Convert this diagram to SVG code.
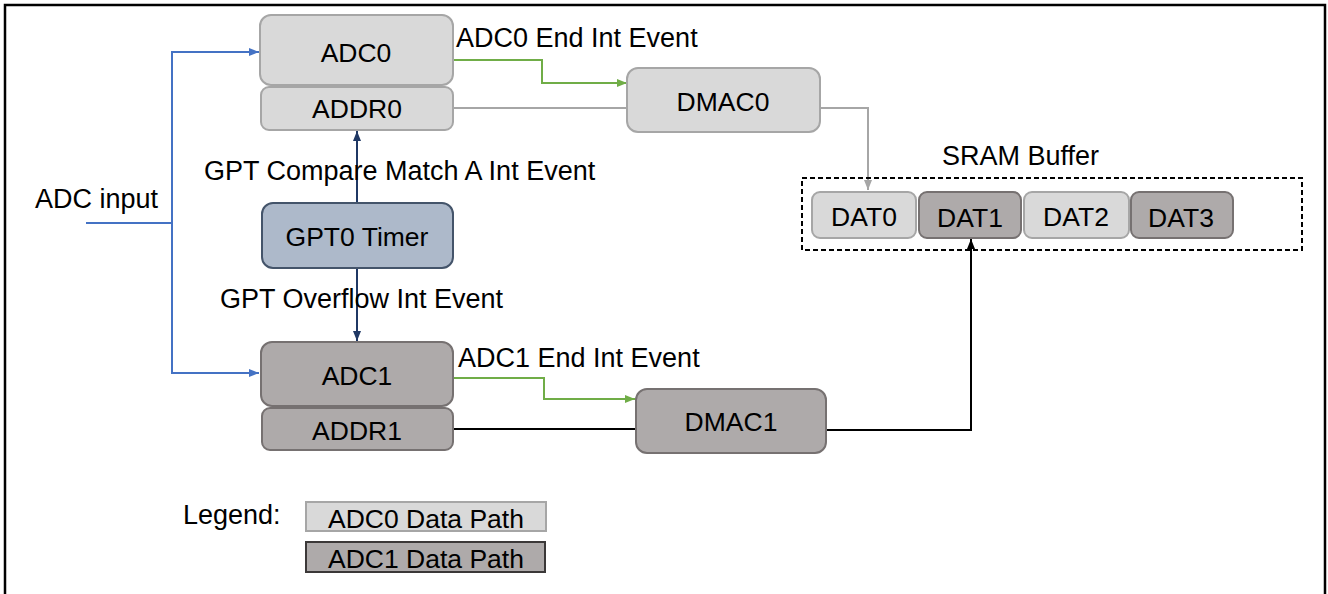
<svg xmlns="http://www.w3.org/2000/svg" width="1328" height="594" viewBox="0 0 1328 594">
<style>
text{font-family:"Liberation Sans",Arial,sans-serif;fill:#000}
.lbl{font-size:27px}
.bx{font-size:26.5px;text-anchor:middle}
.lt{fill:#d9d9d9;stroke:#a6a6a6;stroke-width:2}
.dk{fill:#aeaaaa;stroke:#767171;stroke-width:2}
.gpt{fill:#adb9ca;stroke:#44546a;stroke-width:2}
.c{fill:none;stroke-width:2}
</style>
<defs>
<marker id="aBlue" markerWidth="10" markerHeight="8" refX="10" refY="4" orient="auto" markerUnits="userSpaceOnUse"><path d="M0,0 L10,4 L0,8 z" fill="#4472c4"/></marker>
<marker id="aNavy" markerWidth="10" markerHeight="8" refX="10" refY="4" orient="auto" markerUnits="userSpaceOnUse"><path d="M0,0 L10,4 L0,8 z" fill="#1f3864"/></marker>
<marker id="aGreen" markerWidth="10" markerHeight="8" refX="10" refY="4" orient="auto" markerUnits="userSpaceOnUse"><path d="M0,0 L10,4 L0,8 z" fill="#70ad47"/></marker>
<marker id="aGrey" markerWidth="10" markerHeight="8" refX="10" refY="4" orient="auto" markerUnits="userSpaceOnUse"><path d="M0,0 L10,4 L0,8 z" fill="#a6a6a6"/></marker>
<marker id="aBlack" markerWidth="10" markerHeight="8" refX="10" refY="4" orient="auto" markerUnits="userSpaceOnUse"><path d="M0,0 L10,4 L0,8 z" fill="#000"/></marker>
</defs>
<rect width="1328" height="594" fill="#fff"/>
<path d="M5,600 V5 H1325 V600" fill="none" stroke="#000" stroke-width="2.5"/>

<g id="connectors">
<path class="c" d="M86,223 H172 V52 H259" stroke="#4472c4" marker-end="url(#aBlue)"/>
<path class="c" d="M172,223 V373 H259" stroke="#4472c4" marker-end="url(#aBlue)"/>
<path class="c" d="M357,203 V131" stroke="#1f3864" marker-end="url(#aNavy)"/>
<path class="c" d="M357,268 V341" stroke="#1f3864" marker-end="url(#aNavy)"/>
<path class="c" d="M453,60 H542 V83 H627" stroke="#70ad47" marker-end="url(#aGreen)"/>
<path class="c" d="M453,108 H627" stroke="#a6a6a6"/>
<path class="c" d="M820,108 H868 V190" stroke="#a6a6a6" marker-end="url(#aGrey)"/>
<path class="c" d="M453,378 H544 V399 H635" stroke="#70ad47" marker-end="url(#aGreen)"/>
<path class="c" d="M453,429 H636" stroke="#000"/>
<path class="c" d="M826,430 H971 V239" stroke="#000" marker-end="url(#aBlack)"/>
</g>

<g id="adc0"><rect class="lt" x="260" y="15" width="193" height="70" rx="11"/><text class="bx" x="356" y="62">ADC0</text></g>
<g id="addr0"><rect class="lt" x="261" y="87" width="192" height="43" rx="8"/><text class="bx" x="357" y="118">ADDR0</text></g>
<g id="dmac0"><rect class="lt" x="627" y="68" width="193" height="64" rx="11"/><text class="bx" x="723" y="111">DMAC0</text></g>
<g id="gpt0"><rect class="gpt" x="262" y="203" width="191" height="65" rx="11"/><text class="bx" x="357" y="246">GPT0 Timer</text></g>
<g id="adc1"><rect class="dk" x="261" y="342" width="192" height="64" rx="11"/><text class="bx" x="357" y="385">ADC1</text></g>
<g id="addr1"><rect class="dk" x="262" y="408" width="191" height="42" rx="8"/><text class="bx" x="357" y="440">ADDR1</text></g>
<g id="dmac1"><rect class="dk" x="636" y="389" width="190" height="64" rx="11"/><text class="bx" x="731" y="431">DMAC1</text></g>

<g id="sram">
<rect x="802" y="178" width="500" height="72" fill="none" stroke="#000" stroke-width="2" stroke-dasharray="5,3"/>
<text class="lbl" x="942" y="165">SRAM Buffer</text>
</g>
<g id="dat0"><rect class="lt" x="812" y="192" width="104" height="46" rx="8"/><text class="bx" x="864" y="226">DAT0</text></g>
<g id="dat1"><rect class="dk" x="919" y="192" width="102" height="46" rx="8"/><text class="bx" x="970" y="227">DAT1</text></g>
<g id="dat2"><rect class="lt" x="1024" y="192" width="105" height="46" rx="8"/><text class="bx" x="1076" y="226">DAT2</text></g>
<g id="dat3"><rect class="dk" x="1131" y="192" width="102" height="46" rx="8"/><text class="bx" x="1181" y="227">DAT3</text></g>

<g id="labels">
<text class="lbl" x="456" y="47">ADC0 End Int Event</text>
<text class="lbl" x="35" y="208">ADC input</text>
<text class="lbl" x="204" y="180">GPT Compare Match A Int Event</text>
<text class="lbl" x="220" y="308">GPT Overflow Int Event</text>
<text class="lbl" x="458" y="367">ADC1 End Int Event</text>
</g>

<g id="legend">
<text class="lbl" x="183" y="524">Legend:</text>
<rect x="306" y="502" width="240" height="29" fill="#d9d9d9" stroke="#a6a6a6" stroke-width="2"/>
<text class="bx" x="426" y="528">ADC0 Data Path</text>
<rect x="306" y="542" width="239" height="30" fill="#aeaaaa" stroke="#3b3838" stroke-width="2"/>
<text class="bx" x="426" y="568">ADC1 Data Path</text>
</g>
</svg>
